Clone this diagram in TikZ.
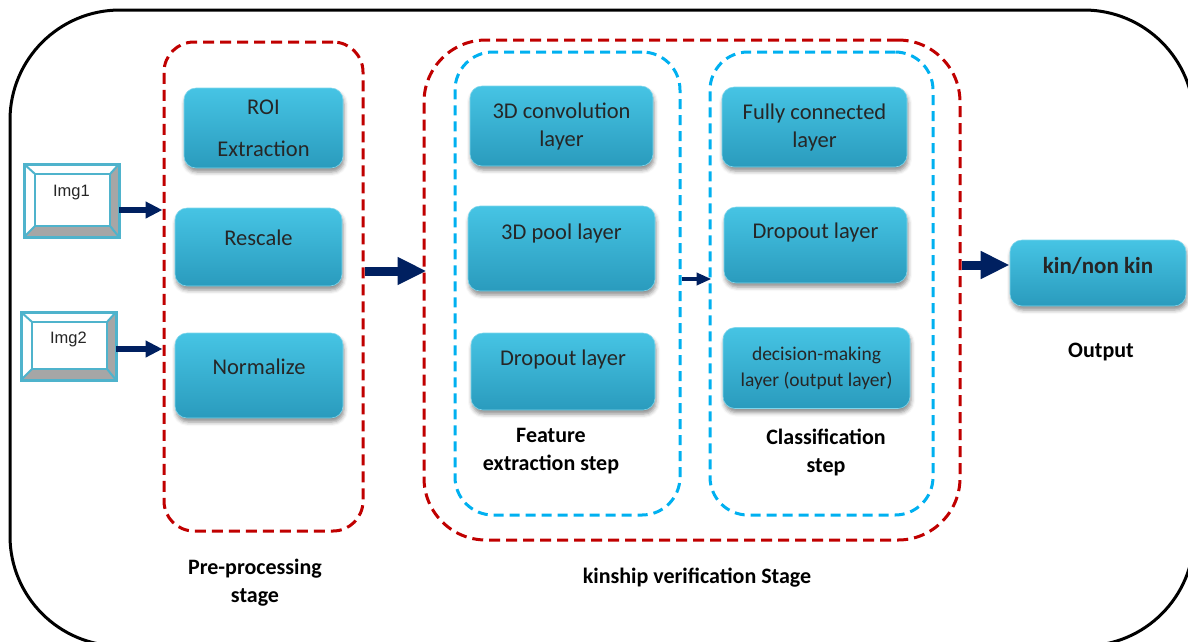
\documentclass[tikz,border=0pt]{standalone}
\usepackage{fontspec}
\setmainfont{Carlito}
\newfontfamily\arialfont{Liberation Sans}
\usetikzlibrary{arrows.meta,calc,shadows.blur}

\definecolor{stageRed}{HTML}{C00000}
\definecolor{stepBlue}{HTML}{00B0F0}
\definecolor{tealTop}{HTML}{46C4E4}
\definecolor{tealBot}{HTML}{2A9BBD}
\definecolor{arrowNavy}{HTML}{002060}
\definecolor{imgEdge}{HTML}{4FB3CC}

\begin{document}
\begin{tikzpicture}[
  x=1pt, y=-1pt,
  every node/.style={inner sep=1pt},
  frame/.style={draw=black, line width=3pt, rounded corners=110pt},
  stage/.style={draw=stageRed, line width=3pt, dash pattern=on 11pt off 6pt},
  stepbox/.style={draw=stepBlue, line width=3pt, dash pattern=on 10pt off 6pt,
                  rounded corners=38pt},
  layer/.style={rectangle, rounded corners=12pt, top color=tealTop,
                bottom color=tealBot, draw=tealTop!70!white, line width=0.6pt,
                blur shadow={shadow xshift=1pt, shadow yshift=-4pt,
                             shadow blur radius=4pt, shadow opacity=45},
                text=black!85, align=center,
                font=\fontsize{22.5}{28}\selectfont},
  lift/.style={text depth=#1},
  imgbox/.style={rectangle, fill=white, draw=imgEdge, line width=2.5pt},
  imgtxt/.style={font=\arialfont\fontsize{16.5}{18}\selectfont, text=black!85},
  bevel/.style={fill=black!35},
  imgline/.style={draw=imgEdge, line width=2pt},
  steplabel/.style={align=center, text=black,
                    font=\bfseries\fontsize{22}{28}\selectfont},
  thinarr/.style={draw=arrowNavy, line width=5.5pt,
                  -{Triangle[length=17pt,width=16pt]}},
  midarr/.style={draw=arrowNavy, line width=4pt,
                 -{Triangle[length=15pt,width=12pt]}},
  bigarr/.style={draw=arrowNavy, line width=9pt,
                 -{Triangle[length=29pt,width=26pt]}},
]
  \useasboundingbox (0,0) rectangle (1188,641);
  \draw[frame] (10,10) rectangle (1194,646);

  % stages and steps
  \node[stage, rounded corners=30pt, minimum width=199, minimum height=489]
    (pre) at (263.5,286.5) {};
  \node[stage, rounded corners=62pt, minimum width=536, minimum height=500]
    (kin) at (692,290) {};
  \node[stepbox, minimum width=225, minimum height=463] (feat) at (567.5,283.5) {};
  \node[stepbox, minimum width=223, minimum height=463] (cls) at (821.5,283.5) {};

  % input images
  \node[imgbox, minimum width=93, minimum height=71] (img1) at (71.5,200.5) {};
  \node[imgbox, minimum width=93, minimum height=66] (img2) at (68.5,346) {};
  \foreach \im in {img1,img2}{
    \coordinate (\im-a) at ($(\im.north west)+(11,10)$);
    \coordinate (\im-b) at ($(\im.north east)+(-9,10)$);
    \coordinate (\im-c) at ($(\im.south east)+(-9,-11)$);
    \coordinate (\im-d) at ($(\im.south west)+(11,-11)$);
    \fill[bevel] (\im.north east) -- (\im.south east) -- (\im-c) -- (\im-b) -- cycle;
    \fill[bevel] (\im.south west) -- (\im.south east) -- (\im-c) -- (\im-d) -- cycle;
    \draw[imgline] (\im-a) rectangle (\im-c);
    \draw[imgline] (\im.north west) -- (\im-a);
    \draw[imgline] (\im.north east) -- (\im-b);
    \draw[imgline] (\im.south east) -- (\im-c);
    \draw[imgline] (\im.south west) -- (\im-d);
    \draw[imgbox, fill=none] (\im.north west) rectangle (\im.south east);
  }
  \node[imgtxt] (img1t) at ($(img1)+(0,-8)$) {Img1};
  \node[imgtxt] (img2t) at ($(img2)+(0,-7)$) {Img2};

  % pre-processing
  \node[layer, minimum width=159, minimum height=80] (roi) at (263.5,128)
    {ROI\\[14pt]Extraction};
  \node[layer, lift=18pt, minimum width=167, minimum height=78] (rescale)
    at (258.5,247) {Rescale};
  \node[layer, lift=18pt, minimum width=168, minimum height=85] (norm)
    at (259,375.5) {Normalize};

  % feature extraction
  \node[layer, minimum width=183, minimum height=80] (conv) at (561.5,126)
    {3D convolution\\layer};
  \node[layer, lift=34pt, minimum width=187, minimum height=85] (pool)
    at (561.5,248.5) {3D pool layer};
  \node[layer, lift=28pt, minimum width=184, minimum height=77] (dropF)
    at (563,371.5) {Dropout layer};

  % classification
  \node[layer, minimum width=185, minimum height=80] (fc) at (814.5,127)
    {Fully connected\\layer};
  \node[layer, lift=28pt, minimum width=183, minimum height=76] (dropC)
    at (815.5,245) {Dropout layer};
  \node[layer, font=\fontsize{19.5}{26}\selectfont, minimum width=187,
    minimum height=81] (decide) at (816.5,368) {decision-making\\layer (output layer)};

  % output
  \node[layer, lift=16pt, font=\bfseries\fontsize{23}{28}\selectfont,
    minimum width=176, minimum height=66] (out) at (1098,273) {kin/non kin};

  \node[steplabel] (featlbl) at (551,451) {Feature\\extraction step};
  \node[steplabel] (clslbl) at (826,452) {Classification\\step};
  \node[steplabel] (prelbl) at (255,583) {Pre-processing\\stage};
  \node[steplabel] (kinlbl) at (697,578) {kinship verification Stage};
  \node[steplabel] (outlbl) at (1101,352) {Output};

  % flow
  \draw[thinarr] ([yshift=-9.5pt]img1.east) -- ([yshift=-9.5pt]img1.east -| pre.west);
  \draw[thinarr] ([yshift=-3pt]img2.east) -- ([yshift=-3pt]img2.east -| pre.west);
  \draw[bigarr] ([yshift=15.5pt]pre.east) -- ([yshift=15.5pt,xshift=4pt]pre.east -| kin.west);
  \draw[midarr] ([yshift=4.5pt]feat.east) -- ([yshift=4.5pt,xshift=3pt]feat.east -| cls.west);
  \draw[bigarr] ([yshift=8pt]out.west -| kin.east) -- ([yshift=8pt]out.west);
\end{tikzpicture}
\end{document}
